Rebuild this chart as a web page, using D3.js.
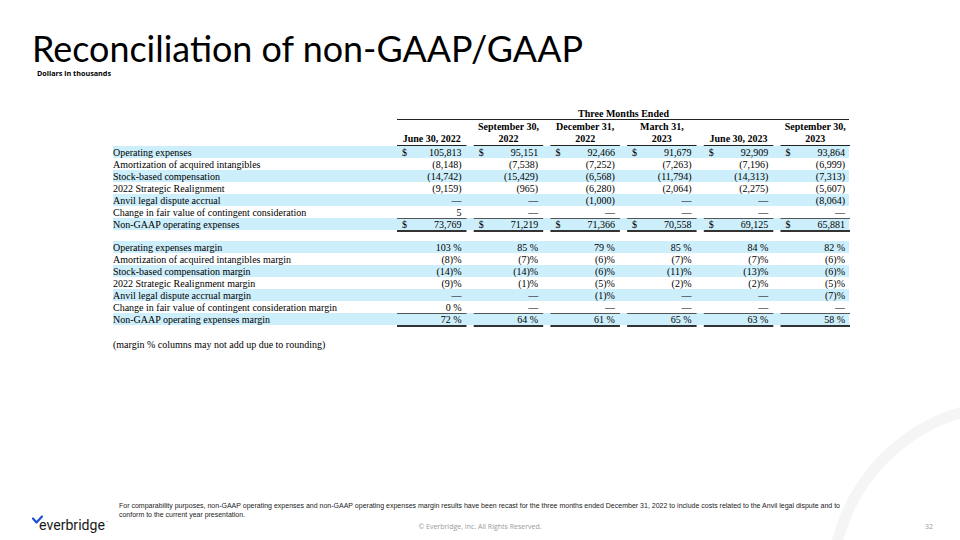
<!DOCTYPE html>
<html>
<head>
<meta charset="utf-8">
<script src="https://cdn.jsdelivr.net/npm/d3@7"></script>
<style>
  html, body { margin: 0; padding: 0; background: #fff; }
  svg { display: block; }
</style>
</head>
<body>
<svg id="chart" width="960" height="540"></svg>
<script>
// ---------------- DATA ----------------
const headerTop = ["", "September 30,", "December 31,", "March 31,", "", "September 30,"];
const headerBottom = ["June 30, 2022", "2022", "2022", "2023", "June 30, 2023", "2023"];
const periods = ["Q2 2022", "Q3 2022", "Q4 2022", "Q1 2023", "Q2 2023", "Q3 2023"];

const expenseLabels = [
  "Operating expenses",
  "Amortization of acquired intangibles",
  "Stock-based compensation",
  "2022 Strategic Realignment",
  "Anvil legal dispute accrual",
  "Change in fair value of contingent consideration",
  "Non-GAAP operating expenses"
];
const operatingExpenses = [105813, 95151, 92466, 91679, 92909, 93864];
const amortization = [-8148, -7538, -7252, -7263, -7196, -6999];
const stockComp = [-14742, -15429, -6568, -11794, -14313, -7313];
const realignment = [-9159, -965, -6280, -2064, -2275, -5607];
const anvilAccrual = [null, null, -1000, null, null, -8064];
const contingent = [5, null, null, null, null, null];
const nonGaapExpenses = [73769, 71219, 71366, 70558, 69125, 65881];

const marginLabels = [
  "Operating expenses margin",
  "Amortization of acquired intangibles margin",
  "Stock-based compensation margin",
  "2022 Strategic Realignment margin",
  "Anvil legal dispute accrual margin",
  "Change in fair value of contingent consideration margin",
  "Non-GAAP operating expenses margin"
];
const opExMargin = [103, 85, 79, 85, 84, 82];
const amortMargin = [-8, -7, -6, -7, -7, -6];
const stockMargin = [-14, -14, -6, -11, -13, -6];
const realignMargin = [-9, -1, -5, -2, -2, -5];
const anvilMargin = [null, null, -1, null, null, -7];
const contingentMargin = [0, null, null, null, null, null];
const nonGaapMargin = [72, 64, 61, 65, 63, 58];

const expenseRows = [operatingExpenses, amortization, stockComp, realignment, anvilAccrual, contingent, nonGaapExpenses];
const marginRows = [opExMargin, amortMargin, stockMargin, realignMargin, anvilMargin, contingentMargin, nonGaapMargin];

// ---------------- DRAW ----------------
const svg = d3.select("#chart");
const serif = "'Liberation Serif', 'Times New Roman', serif";
const stripe = "#cdeefb";

// faint background arc
svg.append("circle")
  .attr("cx", 1012).attr("cy", 585).attr("r", 180)
  .attr("fill", "none").attr("stroke", "#f5f5f5").attr("stroke-width", 11);

// title
svg.append("text")
  .attr("x", 32).attr("y", 62)
  .attr("font-family", "Lato, 'Open Sans', sans-serif")
  .attr("font-size", 37)
  .attr("fill", "#000")
  .attr("textLength", 551).attr("lengthAdjust", "spacingAndGlyphs")
  .text("Reconciliation of non-GAAP/GAAP");

svg.append("text")
  .attr("x", 37).attr("y", 76)
  .attr("font-family", "'Open Sans', sans-serif")
  .attr("font-weight", "bold")
  .attr("font-size", 7)
  .attr("textLength", 74).attr("lengthAdjust", "spacingAndGlyphs")
  .text("Dollars in thousands");

// scales
const x = d3.scaleBand().domain(periods).range([397, 850]).paddingInner(0.094).paddingOuter(0);
const labelX = 113, tableRight = 849;
const yExp = d3.scaleBand().domain(d3.range(expenseLabels.length)).range([146, 146 + 12 * expenseLabels.length]);
const yMar = d3.scaleBand().domain(d3.range(marginLabels.length)).range([241, 241 + 12 * marginLabels.length]);

const fmtNum = d3.format(",");
function fmtDollar(v) {
  if (v === null) return "—";
  return v < 0 ? "(" + fmtNum(-v) + ")" : fmtNum(v);
}
function fmtPct(v) {
  if (v === null) return "—";
  return v < 0 ? "(" + (-v) + ")%" : v + " %";
}

// header
svg.append("text")
  .attr("x", (x.range()[0] + x.range()[1]) / 2).attr("y", 117)
  .attr("text-anchor", "middle")
  .attr("font-family", serif).attr("font-weight", "bold").attr("font-size", 10)
  .text("Three Months Ended");
svg.append("line")
  .attr("x1", x.range()[0]).attr("x2", tableRight)
  .attr("y1", 119.5).attr("y2", 119.5)
  .attr("stroke", "#222").attr("stroke-width", 1);

const hdr = svg.append("g").selectAll("g").data(periods).join("g");
hdr.append("text")
  .attr("x", d => x(d) + x.bandwidth() / 2).attr("y", 130)
  .attr("text-anchor", "middle")
  .attr("font-family", serif).attr("font-weight", "bold").attr("font-size", 10)
  .text((d, i) => headerTop[i]);
hdr.append("text")
  .attr("x", d => x(d) + x.bandwidth() / 2).attr("y", 142)
  .attr("text-anchor", "middle")
  .attr("font-family", serif).attr("font-weight", "bold").attr("font-size", 10)
  .text((d, i) => headerBottom[i]);
hdr.append("line")
  .attr("x1", d => x(d)).attr("x2", d => x(d) + x.bandwidth())
  .attr("y1", 145.5).attr("y2", 145.5)
  .attr("stroke", "#222").attr("stroke-width", 1);

function drawSection(labels, rows, y, fmt, showDollar) {
  const g = svg.append("g");
  // stripes
  g.selectAll("rect.stripe").data(labels.map((l, i) => i).filter(i => i % 2 === 0)).join("rect")
    .attr("x", labelX).attr("width", tableRight - labelX)
    .attr("y", i => y(i)).attr("height", y.bandwidth())
    .attr("fill", stripe);
  // labels
  g.selectAll("text.lbl").data(labels).join("text")
    .attr("x", labelX).attr("y", (d, i) => y(i) + y.bandwidth() / 2 + 3.5)
    .attr("font-family", serif).attr("font-size", 10).attr("fill", "#000")
    .text(d => d);
  // values
  rows.forEach((vals, ri) => {
    g.selectAll(null).data(vals).join("text")
      .attr("x", (d, ci) => x(periods[ci]) + x.bandwidth() - 5)
      .attr("y", y(ri) + y.bandwidth() / 2 + 3.5)
      .attr("text-anchor", "end")
      .attr("font-family", serif).attr("font-size", 10).attr("fill", "#000")
      .text(d => fmt(d));
    if (showDollar && (ri === 0 || ri === rows.length - 1)) {
      g.selectAll(null).data(vals).join("text")
        .attr("x", (d, ci) => x(periods[ci]) + 5)
        .attr("y", y(ri) + y.bandwidth() / 2 + 3.5)
        .attr("font-family", serif).attr("font-size", 10).attr("fill", "#000")
        .text("$");
    }
  });
  // total rules
  const last = rows.length - 1;
  g.selectAll(null).data(periods).join("line")
    .attr("x1", d => x(d)).attr("x2", d => x(d) + x.bandwidth())
    .attr("y1", y(last) + 0.5).attr("y2", y(last) + 0.5)
    .attr("stroke", "#555").attr("stroke-width", 1);
  g.selectAll(null).data(periods).join("line")
    .attr("x1", d => x(d)).attr("x2", d => x(d) + x.bandwidth())
    .attr("y1", y(last) + y.bandwidth() + 1).attr("y2", y(last) + y.bandwidth() + 1)
    .attr("stroke", "#333").attr("stroke-width", 2.2);
}

drawSection(expenseLabels, expenseRows, yExp, fmtDollar, true);
drawSection(marginLabels, marginRows, yMar, fmtPct, false);

svg.append("text")
  .attr("x", labelX).attr("y", 348)
  .attr("font-family", serif).attr("font-size", 10)
  .text("(margin % columns may not add up due to rounding)");

// footnote
const foot = svg.append("g")
  .attr("font-family", "'Liberation Sans Narrow', 'Liberation Sans', Arial, sans-serif")
  .attr("font-size", 7).attr("fill", "#222");
foot.append("text").attr("x", 119).attr("y", 508)
  .attr("textLength", 721).attr("lengthAdjust", "spacingAndGlyphs")
  .text("For comparability purposes, non-GAAP operating expenses and non-GAAP operating expenses margin results have been recast for the three months ended December 31, 2022 to include costs related to the Anvil legal dispute and to");
foot.append("text").attr("x", 119).attr("y", 517)
  .attr("textLength", 126).attr("lengthAdjust", "spacingAndGlyphs")
  .text("conform to the current year presentation.");

svg.append("text")
  .attr("x", 480).attr("y", 529).attr("text-anchor", "middle")
  .attr("font-family", "'Open Sans', sans-serif").attr("font-size", 7).attr("fill", "#9a9a9a")
  .text("© Everbridge, Inc. All Rights Reserved.");
svg.append("text")
  .attr("x", 933).attr("y", 529).attr("text-anchor", "end")
  .attr("font-family", "'Open Sans', sans-serif").attr("font-size", 7).attr("fill", "#9a9a9a")
  .text("32");

// logo
const logo = svg.append("g");
logo.append("path")
  .attr("d", "M33,518.5 L36.5,522.5 L42,516.5")
  .attr("fill", "none").attr("stroke", "#1d4fd8").attr("stroke-width", 2.2)
  .attr("stroke-linecap", "round").attr("stroke-linejoin", "round");
logo.append("text")
  .attr("x", 39).attr("y", 530)
  .attr("font-family", "Roboto, 'Open Sans', sans-serif").attr("font-size", 15)
  .attr("fill", "#1a1a1a")
  .attr("textLength", 66).attr("lengthAdjust", "spacingAndGlyphs")
  .text("everbridge");
logo.append("text")
  .attr("x", 106).attr("y", 523)
  .attr("font-family", "Roboto, sans-serif").attr("font-size", 3).attr("fill", "#1a1a1a")
  .text("™");
</script>
</body>
</html>
